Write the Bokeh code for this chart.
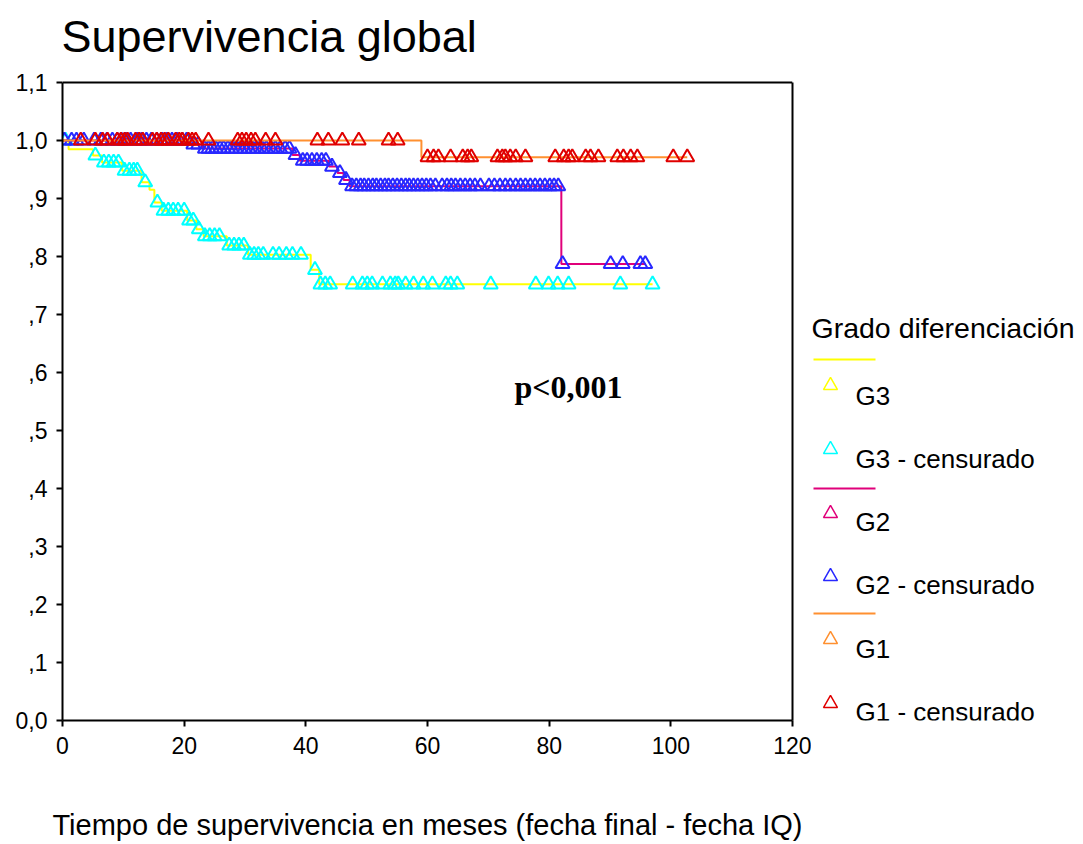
import numpy as np
from bokeh.plotting import figure
from bokeh.layouts import row
from bokeh.models import Range1d, FixedTicker, Label, LinearAxis, Span
from bokeh.embed import file_html
from bokeh.resources import INLINE

# ---------------- data ----------------
x_ticks = [0, 20, 40, 60, 80, 100, 120]
y_ticks = [0.0, 0.1, 0.2, 0.3, 0.4, 0.5, 0.6, 0.7, 0.8, 0.9, 1.0, 1.1]
y_tick_labels = ["0,0", ",1", ",2", ",3", ",4", ",5", ",6", ",7", ",8", ",9", "1,0", "1,1"]
y_top = 1.1  # top of the drawn box

# G3: step times (months) and survival after each step
g3_times = [0, 1.0, 5.0, 6.5, 9.8, 13.0, 14.3, 15.1, 16.3, 20.5, 22.0, 23.2, 27.0, 30.5, 40.8, 42.2]
g3_surv = [1.0, 0.985, 0.974, 0.962, 0.948, 0.928, 0.915, 0.893, 0.879, 0.862, 0.847, 0.835, 0.819, 0.803, 0.777, 0.752]
g3_cens = [0.5, 5.4, 6.8, 7.6, 8.4, 9.2, 10.2, 11.0, 11.7, 12.3, 13.6, 15.6, 16.6, 17.4, 18.2, 19.0,
           20.0, 20.8, 21.5, 22.4, 23.4, 24.2, 25.0, 25.8, 27.4, 28.2, 29.0, 29.8, 30.8, 31.5, 32.2,
           33.0, 34.6, 35.6, 36.8, 37.8, 39.2, 41.5, 42.4, 43.2, 44.0, 47.7, 49.3, 50.1, 50.9, 52.6,
           53.9, 54.7, 55.2, 56.4, 57.7, 59.3, 60.8, 63.0, 63.8, 64.9, 70.4, 77.8, 79.9, 81.4, 83.2,
           91.7, 97.0]

# G2
g2_times = [0, 21.0, 23.0, 37.8, 39.0, 43.8, 45.2, 46.2, 47.2, 82.0]
g2_surv = [1.0, 0.993, 0.986, 0.975, 0.965, 0.955, 0.944, 0.932, 0.921, 0.787]
g2_cens = [0.3, 1.5, 2.3, 3.5, 5.2, 6.3, 7.3, 8.2, 9.0, 9.7, 10.4, 11.2, 12.3, 13.0, 13.8, 14.6,
           15.5, 16.4, 17.2, 18.0, 18.8, 19.7, 20.4, 21.5, 22.3, 23.4, 24.0, 24.6, 25.2, 25.9, 26.5,
           27.2, 27.8, 28.5, 29.2, 29.9, 30.6, 31.3, 32.0, 32.8, 33.5, 34.3, 35.0, 35.8, 36.6, 37.3,
           38.3, 39.5, 40.2, 41.0, 41.8, 42.6, 43.3, 44.3, 45.6, 46.6, 47.6, 48.3, 49.0, 49.6, 50.3,
           51.0, 51.6, 52.3, 53.0, 53.6, 54.3, 55.0, 55.7, 56.4, 57.0, 57.7, 58.4, 59.1, 59.8, 60.5,
           61.3, 62.4, 63.2, 63.9, 64.6, 65.4, 66.2, 67.0, 67.8, 68.7, 70.1, 71.0, 71.9, 72.8, 73.6,
           74.5, 75.3, 76.1, 76.9, 77.7, 78.5, 79.3, 80.1, 80.8, 81.5, 82.2, 90.1, 92.1, 95.0, 95.8]

# G1
g1_times = [0, 59.0]
g1_surv = [1.0, 0.971]
g1_cens = [3.0, 5.4, 6.6, 7.4, 9.0, 9.6, 10.2, 10.7, 12.0, 12.6, 13.2, 14.8, 15.5, 16.2, 16.8, 17.4,
           18.6, 19.2, 19.7, 20.7, 21.3, 21.9, 24.0, 28.8, 29.5, 30.2, 31.0, 31.7, 33.4, 35.0, 41.9,
           43.7, 46.0, 48.7, 53.6, 55.1, 60.0, 61.0, 61.8, 63.8, 65.8, 66.6, 67.2, 71.5, 72.3, 72.8,
           73.6, 74.5, 76.1, 81.0, 82.4, 83.2, 83.8, 86.0, 86.8, 88.1, 91.2, 92.2, 93.4, 94.5, 100.4,
           102.7]

group_labels = ["G3", "G2", "G1"]
line_colors = ["#FFFF00", "#E0007A", "#FF9030"]
cens_colors = ["#00FFFF", "#2828FF", "#E00000"]

title_text = "Supervivencia global"
x_label = "Tiempo de supervivencia en meses (fecha final - fecha IQ)"
legend_title = "Grado diferenciación"
p_text = "p<0,001"

# ---------------- layout ----------------
W, H = 1083, 844
W1 = 811                       # main figure width
L, R, T, B = 62, 792, 82, 720  # box edges in page pixels
FT = 4                         # top of the plotting frame (title lives inside it)
SANS = "Liberation Sans"
y_max = y_top * (B - FT) / (B - T)   # so that y_top lands on page row T

p = figure(width=W1, height=H, x_range=Range1d(0, 120), y_range=Range1d(0, y_max),
           output_backend="svg", toolbar_location=None,
           min_border_left=L, min_border_right=W1 - R, min_border_top=FT, min_border_bottom=H - B)
p.background_fill_color = "white"
p.border_fill_color = "white"
p.outline_line_color = None
p.xgrid.visible = False
p.ygrid.visible = False

for ax in (p.xaxis[0], p.yaxis[0]):
    ax.axis_line_width = 2
    ax.axis_line_color = "black"
    ax.major_tick_line_width = 2
    ax.major_tick_in = 0
    ax.major_tick_out = 6
    ax.minor_tick_out = 0
    ax.minor_tick_in = 0
    ax.major_label_text_font = SANS
    ax.major_label_text_font_size = "23px"
    ax.major_label_text_color = "black"

p.xaxis[0].ticker = FixedTicker(ticks=x_ticks)
p.yaxis[0].ticker = FixedTicker(ticks=y_ticks)
p.yaxis[0].bounds = (0, y_top)
p.yaxis[0].major_label_overrides = {t: s for t, s in zip(y_ticks, y_tick_labels)}
p.xaxis[0].major_label_standoff = 10
p.yaxis[0].major_label_standoff = 9

p.xaxis[0].axis_label = x_label
p.xaxis[0].axis_label_text_font = SANS
p.xaxis[0].axis_label_text_font_size = "29px"
p.xaxis[0].axis_label_text_font_style = "normal"
p.xaxis[0].axis_label_text_color = "black"
p.xaxis[0].axis_label_standoff = 52
try:
    p.xaxis[0].axis_label_align = "left"
except Exception:
    pass

# right and top edges of the box
right_ax = LinearAxis(bounds=(0, y_top), ticker=FixedTicker(ticks=[]), major_label_text_alpha=0,
                      major_tick_out=0, major_tick_in=0, minor_tick_out=0, minor_tick_in=0,
                      axis_line_width=2, axis_line_color="black")
p.add_layout(right_ax, "right")
p.add_layout(Span(location=y_top, dimension="width", line_color="black", line_width=2))


def level(times, surv, t):
    idx = np.searchsorted(np.asarray(times), np.asarray(t), side="right") - 1
    return np.asarray(surv)[idx]


groups = [(g3_times, g3_surv, g3_cens), (g2_times, g2_surv, g2_cens), (g1_times, g1_surv, g1_cens)]
for (times, surv, cens), lc, cc in zip(groups, line_colors, cens_colors):
    end = max(cens)
    xs = list(times) + [end]
    ys = list(surv) + [surv[-1]]
    p.step(xs, ys, mode="after", line_color=lc, line_width=2)
    p.scatter(cens, level(times, surv, cens), marker="triangle", size=14,
              fill_color=None, line_color=cc, line_width=2)


def main_text(txt, cx, cy, size, font=SANS, style="normal"):
    # page pixel position -> frame-relative screen units
    p.add_layout(Label(x=cx - L, y=B - cy, x_units="screen", y_units="screen", text=txt,
                       text_font=font, text_font_size=size, text_font_style=style,
                       text_color="black", text_align="left", text_baseline="middle"))


main_text(title_text, 61, 36, "45px")
main_text(p_text, 514, 386, "32px", font="Liberation Serif", style="bold")

# ---------------- legend panel (page-pixel coordinates) ----------------
lg = figure(width=W - W1, height=H, x_range=Range1d(W1, W), y_range=Range1d(B, FT),
            output_backend="svg", toolbar_location=None, x_axis_type=None, y_axis_type=None,
            min_border_left=0, min_border_right=0, min_border_top=FT, min_border_bottom=H - B)
lg.outline_line_color = None
lg.xgrid.visible = False
lg.ygrid.visible = False
lg.background_fill_color = "white"
lg.border_fill_color = "white"


def lg_text(txt, cx, cy, size):
    lg.add_layout(Label(x=cx, y=cy, text=txt, text_font=SANS, text_font_size=size,
                        text_color="black", text_align="left", text_baseline="middle"))


lg_text(legend_title, 811, 327, "28.5px")
legend_rows = [
    (359, 385, 395, 449, 458),
    (488, 513, 521, 576, 584),
    (613, 639, 648, 703, 711),
]
for (ly, t1, y1, t2, y2), lab, lc, cc in zip(legend_rows, group_labels, line_colors, cens_colors):
    lg.segment(x0=[813], y0=[ly], x1=[875], y1=[ly], line_color=lc, line_width=2)
    lg.scatter([830, 830], [t1, t2], marker="triangle", size=14, fill_color=None,
               line_color=[lc, cc], line_width=1.5)
    lg_text(lab, 855, y1, "26px")
    lg_text(lab + " - censurado", 855, y2, "26px")

layout = row(p, lg)
open("out.html", "w").write(file_html(layout, INLINE))
